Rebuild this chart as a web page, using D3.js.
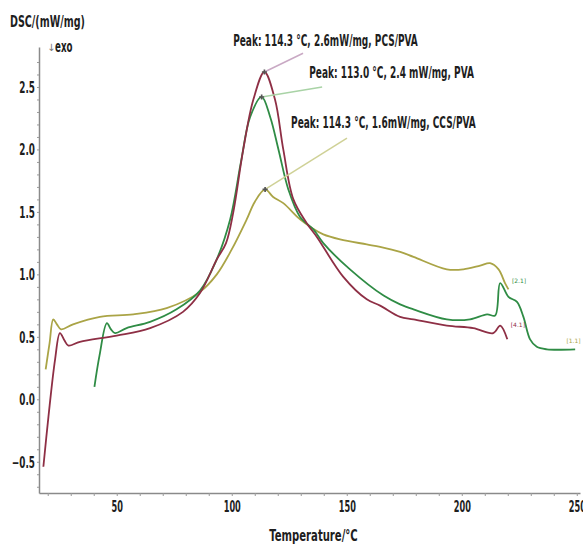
<!DOCTYPE html>
<html>
<head>
<meta charset="utf-8">
<script src="https://cdn.jsdelivr.net/npm/d3@7"></script>
<style>
    body { margin: 0; background: #fff; }
    text { font-family: "DejaVu Sans", sans-serif; }
    .tick-label { font-size: 15.5px; font-weight: bold; fill: #1e1e1e; }
    .axis-title { font-size: 16.5px; font-weight: bold; fill: #1e1e1e; }
    .peak-label { font-size: 15px; font-weight: bold; fill: #1e1e1e; }
    .seg-label { font-size: 6px; }
</style>
</head>
<body>
<svg id="dsc" width="583" height="546"></svg>
<script>
// PCS/PVA (red)
let pcsTemp = [18.1, 20.3, 23.2, 25.3, 27.3, 29, 34, 50, 64.5, 78.8, 86.2, 93.5, 97.5, 100.7, 105, 109.4, 114.2, 118.8, 122.4, 126.8, 132.6, 137, 148.5, 158.7, 164.5, 173.2, 179, 193.5, 205, 213.7, 216.7, 219.8];
let pcsDsc  = [-0.54, -0.14, 0.32, 0.53, 0.47, 0.43, 0.46, 0.51, 0.57, 0.70, 0.85, 1.12, 1.25, 1.5, 2.0, 2.4, 2.62, 2.40, 2.0, 1.6, 1.41, 1.30, 0.98, 0.80, 0.75, 0.66, 0.64, 0.59, 0.57, 0.53, 0.59, 0.48];

// PVA (green)
let pvaTemp = [40.3, 42.5, 45.7, 47.5, 49.3, 54.3, 64.5, 76, 86.2, 93, 99.3, 104, 108, 113, 116.7, 120.3, 124.6, 129.7, 135.5, 139.8, 151.4, 166, 173.2, 179, 193.5, 203.6, 211, 214.5, 216.7, 220.3, 224, 226.8, 229.7, 232.6, 237, 249.3];
let pvaDsc  = [0.10, 0.35, 0.61, 0.56, 0.53, 0.57, 0.62, 0.72, 0.87, 1.1, 1.44, 1.9, 2.26, 2.42, 2.26, 2.0, 1.68, 1.46, 1.36, 1.25, 1.04, 0.83, 0.76, 0.72, 0.64, 0.64, 0.68, 0.67, 0.93, 0.82, 0.78, 0.66, 0.48, 0.42, 0.40, 0.40];

// CCS/PVA (olive)
let ccsTemp = [19.1, 20.8, 22.4, 24, 25.8, 31, 42.7, 57.2, 71.7, 86.2, 93.5, 100, 106.5, 110, 114.5, 118, 122.4, 129.7, 135, 139.8, 147.1, 158.7, 164.5, 173.2, 179, 193.5, 200.7, 208, 212.3, 216, 218.8, 220.3];
let ccsDsc  = [0.24, 0.45, 0.64, 0.60, 0.56, 0.60, 0.66, 0.68, 0.73, 0.86, 1.0, 1.2, 1.44, 1.58, 1.68, 1.62, 1.57, 1.44, 1.37, 1.32, 1.28, 1.24, 1.22, 1.18, 1.14, 1.04, 1.04, 1.07, 1.09, 1.04, 0.93, 0.88];

// peak annotations: peak point, end of leader, text anchor (all in data units)
let peakText   = ["Peak: 114.3 \u00B0C, 2.6mW/mg, PCS/PVA", "Peak: 113.0 \u00B0C, 2.4 mW/mg, PVA", "Peak: 114.3 \u00B0C, 1.6mW/mg, CCS/PVA"];
let peakPoint  = [[114.2, 2.62], [113.0, 2.42], [114.5, 1.68]];
let leaderEnd  = [[131, 2.77], [139.3, 2.5], [150.1, 2.09]];
let textAnchor = [[100.6, 2.83], [133.7, 2.57], [125.8, 2.17]];

// segment labels at curve ends
let segText  = ["[4.1]", "[2.1]", "[1.1]"];
let segPoint = [[221.3, 0.58], [221.8, 0.93], [245.5, 0.45]];

let xTicks = d3.range(20, 251, 10);
let yTicks = d3.range(-7, 28).map(d => d / 10);

let colors = ["#8e2f45", "#2f8c45", "#aaa446"];
let leaderColors = ["#c9a9c4", "#a9d3a6", "#cfd196"];

// the original uses a very narrow face, squeeze the glyphs to match
function narrow(sel, k) {
    sel.each(function() {
        let w = this.getComputedTextLength();
        if (w > 0) {
            d3.select(this)
                .attr('textLength', w * k)
                .attr('lengthAdjust', 'spacingAndGlyphs');
        }
    });
}

function drawDsc(graphId) {
    let svg = d3.select('#' + graphId);

    let xScale = d3.scaleLinear()
        .domain([16.2, 251.4])
        .range([39, 580]);

    let yScale = d3.scaleLinear()
        .domain([-0.75, 2.82])
        .range([493, 47]);

    // axes
    let xAxis = svg.append('g')
        .attr('transform', 'translate(0,' + yScale(-0.75) + ')')
        .call(
            d3.axisBottom(xScale)
                .tickValues(xTicks)
                .tickSize(3)
                .tickSizeOuter(0)
                .tickFormat(d => d % 50 === 0 ? d : '')
        );

    let yAxis = svg.append('g')
        .attr('transform', 'translate(' + xScale(16.2) + ',0)')
        .call(
            d3.axisLeft(yScale)
                .tickValues(yTicks)
                .tickSize(2)
                .tickSizeOuter(0)
                .tickFormat(d => Math.abs(Math.round(d * 10) % 5) === 0 ? d3.format('.1f')(d) : '')
        );

    [xAxis, yAxis].forEach(a => {
        a.select('.domain').attr('stroke', '#8a8a8a').attr('stroke-width', 1.5);
        a.selectAll('.tick line').attr('stroke', '#9a9a9a');
        a.selectAll('.tick text').attr('class', 'tick-label');
    });
    xAxis.selectAll('.tick text').attr('y', 8).attr('dy', '0.71em');
    yAxis.selectAll('.tick text').attr('x', -4).attr('dy', '0.35em');
    narrow(xAxis.selectAll('.tick text'), 0.53);
    narrow(yAxis.selectAll('.tick text'), 0.57);

    // titles
    svg.append('text')
        .attr('class', 'axis-title')
        .attr('x', 10)
        .attr('y', 27)
        .text('DSC/(mW/mg)')
        .call(narrow, 0.58);

    svg.append('text')
        .attr('x', 47)
        .attr('y', 51)
        .style('font-size', '10px')
        .attr('fill', '#777')
        .text('\u2193');

    svg.append('text')
        .attr('x', 55)
        .attr('y', 52)
        .style('font-size', '15px')
        .style('font-weight', 'bold')
        .attr('fill', '#1e1e1e')
        .text('exo')
        .call(narrow, 0.58);

    svg.append('text')
        .attr('class', 'axis-title')
        .attr('x', (xScale(16.2) + xScale(251.4)) / 2 + 4)
        .attr('y', 541)
        .attr('text-anchor', 'middle')
        .text('Temperature/\u00B0C')
        .call(narrow, 0.61);

    // curves
    let line = d3.line()
        .curve(d3.curveCatmullRom.alpha(0.5))
        .x(d => xScale(d[0]))
        .y(d => yScale(d[1]));

    let series = [
        d3.zip(pcsTemp, pcsDsc),
        d3.zip(pvaTemp, pvaDsc),
        d3.zip(ccsTemp, ccsDsc)
    ];

    // draw olive first so red and green sit on top like the original
    [2, 1, 0].forEach(i => {
        svg.append('path')
            .datum(series[i])
            .attr('d', line)
            .attr('fill', 'none')
            .attr('stroke', colors[i])
            .attr('stroke-width', 1.8)
            .attr('stroke-linejoin', 'round');
    });

    // peak leaders and labels
    peakText.forEach((t, i) => {
        svg.append('line')
            .attr('x1', xScale(peakPoint[i][0]))
            .attr('y1', yScale(peakPoint[i][1]))
            .attr('x2', xScale(leaderEnd[i][0]))
            .attr('y2', yScale(leaderEnd[i][1]))
            .attr('stroke', leaderColors[i])
            .attr('stroke-width', 1.5);

        svg.append('path')
            .attr('d', d3.symbol(d3.symbolCross, 14)())
            .attr('transform', 'translate(' + xScale(peakPoint[i][0]) + ',' + yScale(peakPoint[i][1]) + ')')
            .attr('fill', '#555');

        svg.append('text')
            .attr('class', 'peak-label')
            .attr('x', xScale(textAnchor[i][0]))
            .attr('y', yScale(textAnchor[i][1]))
            .text(t)
            .call(narrow, 0.6);
    });

    // segment labels
    segText.forEach((t, i) => {
        svg.append('text')
            .attr('class', 'seg-label')
            .attr('x', xScale(segPoint[i][0]))
            .attr('y', yScale(segPoint[i][1]))
            .attr('fill', colors[i])
            .text(t);
    });
}

drawDsc('dsc');
</script>
</body>
</html>
